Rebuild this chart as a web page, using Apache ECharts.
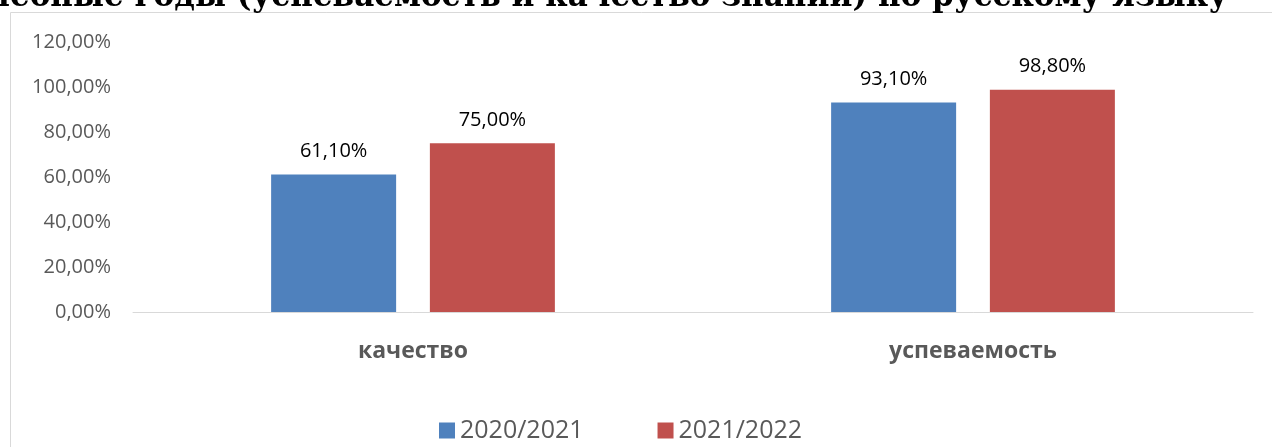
<!DOCTYPE html>
<html><head><meta charset="utf-8">
<script src="https://cdn.jsdelivr.net/npm/echarts@6/dist/echarts.min.js"></script>
<style>html,body{margin:0;padding:0;background:#fff}#c{width:1272px;height:447px}</style>
</head><body><div id="c"></div>
<script>
const categories = ['качество', 'успеваемость'];
const seriesNames = ['2020/2021', '2021/2022'];
const values2020 = [61.1, 93.1];
const values2021 = [75.0, 98.8];
const yTicks = [0, 20, 40, 60, 80, 100, 120];
const titleText = 'ВПР за 2020/2021 и 2021/2022 учебные годы (успеваемость и качество знаний) по русскому языку';
const colors = ['#4F81BD', '#C0504D'];

const fmt = v => v.toFixed(2).replace('.', ',') + '%';
const chart = echarts.init(document.getElementById('c'));
chart.setOption({
  animation: false,
  graphic: [
    {type: 'rect', shape: {x: 10.5, y: 12.5, width: 1300, height: 500}, style: {fill: 'none', stroke: '#d9d9d9', lineWidth: 1}, z: 0},
    {type: 'text', x: 1228, y: 13, style: {text: titleText, font: 'bold 31px "DejaVu Serif"', fill: '#000', textAlign: 'right', textVerticalAlign: 'bottom'}, z: 10}
  ],
  legend: {
    data: seriesNames, top: 413, left: 434, itemWidth: 16, itemHeight: 16, itemGap: 74, icon: 'rect',
    textStyle: {fontSize: 25, color: '#595959', fontFamily: 'Open Sans'}
  },
  grid: {left: 133, right: 19, top: 42, bottom: 135},
  xAxis: {
    type: 'category', data: categories,
    axisLine: {lineStyle: {color: '#d9d9d9'}}, axisTick: {show: false},
    axisLabel: {fontSize: 23, fontWeight: 'bold', color: '#595959', margin: 28, fontFamily: 'Open Sans'}
  },
  yAxis: {
    type: 'value', min: yTicks[0], max: yTicks[yTicks.length - 1], interval: 20,
    splitLine: {show: false}, axisLine: {show: false}, axisTick: {show: false},
    axisLabel: {fontSize: 20, color: '#595959', margin: 22, fontFamily: 'Open Sans', formatter: v => fmt(v)}
  },
  series: [
    {name: seriesNames[0], type: 'bar', data: values2020, barWidth: 125, barGap: '27%', itemStyle: {color: colors[0]},
     label: {show: true, position: 'top', distance: 13, fontSize: 20, color: '#000', fontFamily: 'Open Sans', formatter: p => fmt(p.value)}},
    {name: seriesNames[1], type: 'bar', data: values2021, barWidth: 125, itemStyle: {color: colors[1]},
     label: {show: true, position: 'top', distance: 13, fontSize: 20, color: '#000', fontFamily: 'Open Sans', formatter: p => fmt(p.value)}}
  ]
});
</script></body></html>
